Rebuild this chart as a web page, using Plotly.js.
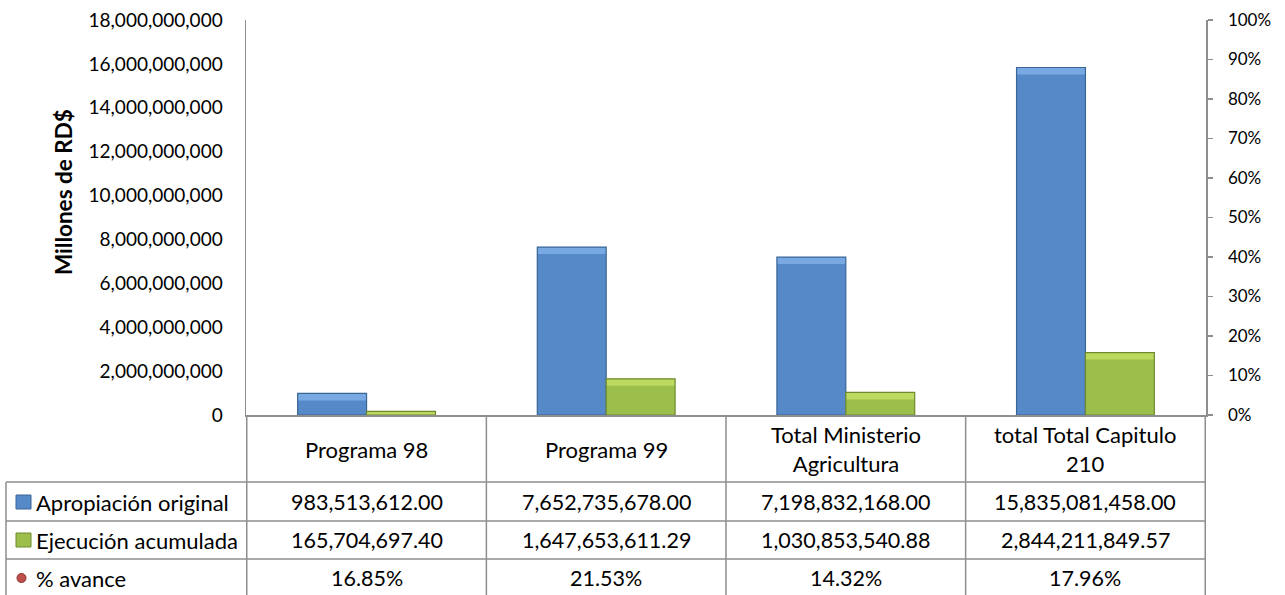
<!DOCTYPE html>
<html>
<head>
<meta charset="utf-8">
<script src="https://cdn.plot.ly/plotly-3.0.1.min.js"></script>
<style>html,body{margin:0;padding:0;background:#fff}#chart{width:1285px;height:595px}</style>
</head>
<body>
<div id="chart"></div>
<script>
// ---- data ----
const categories = ["Programa 98", "Programa 99", "Total Ministerio Agricultura", "total Total Capitulo 210"];
const headerLabels = ["Programa 98", "Programa 99", "Total Ministerio<br>Agricultura", "total Total Capitulo<br>210"];
const apropiacion = [983513612.00, 7652735678.00, 7198832168.00, 15835081458.00];
const ejecucion = [165704697.40, 1647653611.29, 1030853540.88, 2844211849.57];
const avance = [0.1685, 0.2153, 0.1432, 0.1796];
const seriesNames = ["Apropiación original", "Ejecución acumulada", "% avance"];
const yTickVals = [0, 2e9, 4e9, 6e9, 8e9, 10e9, 12e9, 14e9, 16e9, 18e9];

// ---- layout helpers ----
const W = 1285, H = 595;
const M = {l: 246, r: 79, t: 20, b: 180};
const PW = W - M.l - M.r, PH = H - M.t - M.b;
const px = v => (v - M.l) / PW;
const py = v => (H - M.b - v) / PH;
const YMAX = 18e9;
const bevel = YMAX * 7 / PH;

const FONT = "Lato, 'Open Sans', sans-serif";
const GRID = "#8e8e8e";
const BLUE = "#5589c8", BLUE_TOP = "#79a9e2", BLUE_EDGE = "#3a6597";
const GREEN = "#9cbf4c", GREEN_TOP = "#bcd960", GREEN_EDGE = "#6f8a2e";

function fmt2(v){return v.toLocaleString('en-US',{minimumFractionDigits:2, maximumFractionDigits:2});}
function fmtPct(v){return (v*100).toFixed(2) + '%';}

function barSet(vals, name, grp, body, top, edge){
  return [
    {type:'bar', x:categories, y:vals, name:name, offsetgroup:grp,
     marker:{color:body, line:{width:0}}, showlegend:false},
    {type:'bar', x:categories, y:vals.map(v=>Math.min(v,bevel)), base:vals.map(v=>Math.max(0,v-bevel)),
     offsetgroup:grp, marker:{color:top, line:{width:0}}, showlegend:false, hoverinfo:'skip'},
    {type:'bar', x:categories, y:vals, offsetgroup:grp,
     marker:{color:'rgba(0,0,0,0)', line:{color:edge, width:1.2}}, showlegend:false, hoverinfo:'skip'}
  ];
}

const traces = [
  ...barSet(apropiacion, seriesNames[0], 'a', BLUE, BLUE_TOP, BLUE_EDGE),
  ...barSet(ejecucion, seriesNames[1], 'b', GREEN, GREEN_TOP, GREEN_EDGE),
  {type:'scatter', mode:'markers', x:categories, y:avance, yaxis:'y2', name:seriesNames[2],
   marker:{color:'#c0504d', size:8, opacity:0}, showlegend:false}
];

const shapes = [];
const annotations = [];
// table vertical lines
for (let i = 0; i <= categories.length; i++) {
  shapes.push({type:'line', xref:'x', yref:'paper', x0:i-0.5, x1:i-0.5, y0:0, y1:py(H), line:{color:GRID, width:1.5}});
}
// left border of legend column
shapes.push({type:'line', xref:'paper', yref:'paper', x0:px(6), x1:px(6), y0:py(482), y1:py(H), line:{color:GRID, width:1.5}});
// horizontal row lines
[482, 521, 559].forEach(r => shapes.push({type:'line', xref:'paper', yref:'paper', x0:px(6), x1:1, y0:py(r), y1:py(r), line:{color:GRID, width:1.5}}));

// header cells
headerLabels.forEach((lab, i) => annotations.push({xref:'x', yref:'paper', x:categories[i], y:py(449), text:lab, showarrow:false,
  font:{family:FONT, size:22, color:'#000'}, xanchor:'center', yanchor:'middle'}));
// value rows
const rows = [apropiacion.map(fmt2), ejecucion.map(fmt2), avance.map(fmtPct)];
const rowY = [502, 540, 578];
rows.forEach((row, r) => row.forEach((t, i) => annotations.push({xref:'x', yref:'paper', x:categories[i], y:py(rowY[r]), text:t, showarrow:false,
  font:{family:FONT, size:21.5, color:'#000'}, xanchor:'center', yanchor:'middle'})));
// legend labels
seriesNames.forEach((n, r) => annotations.push({xref:'paper', yref:'paper', x:px(34), y:py(rowY[r]), text:n, showarrow:false,
  font:{family:FONT, size:22, color:'#000'}, xanchor:'left', yanchor:'middle'}));
// legend keys
shapes.push({type:'rect', xref:'paper', yref:'paper', x0:px(16), x1:px(31), y0:py(509), y1:py(495), fillcolor:BLUE, line:{color:BLUE_EDGE, width:1}});
shapes.push({type:'rect', xref:'paper', yref:'paper', x0:px(16), x1:px(31), y0:py(547), y1:py(533), fillcolor:GREEN, line:{color:GREEN_EDGE, width:1}});
shapes.push({type:'circle', xref:'paper', yref:'paper', x0:px(17), x1:px(26), y0:py(582.5), y1:py(573.5), fillcolor:'#c0504d', line:{color:'#8c2f2c', width:1}});

// y axis title
annotations.push({xref:'paper', yref:'paper', x:px(63), y:py(192), text:'<b>Millones de RD$</b>', textangle:-90, showarrow:false,
  font:{family:FONT, size:22.5, color:'#000'}, xanchor:'center', yanchor:'middle'});

const layout = {
  width: W, height: H,
  margin: M,
  paper_bgcolor:'#fff', plot_bgcolor:'#fff',
  barmode:'group', bargap:0.425, bargroupgap:0,
  showlegend:false,
  xaxis:{type:'category', showline:true, linecolor:GRID, linewidth:1.5, showticklabels:false, ticks:'', showgrid:false, zeroline:false, fixedrange:true},
  yaxis:{range:[0, YMAX], tickvals:yTickVals, tickformat:',.0f', showline:true, linecolor:GRID, linewidth:1.5, showgrid:false, zeroline:false,
         ticks:'', ticklabelstandoff:18, tickfont:{family:FONT, size:19, color:'#000'}},
  yaxis2:{range:[0,1], dtick:0.1, tickformat:'.0%', overlaying:'y', side:'right', showline:true, linecolor:GRID, linewidth:1.5,
          ticks:'outside', ticklen:5, tickcolor:GRID, tickwidth:1.5, showgrid:false, zeroline:false, ticklabelstandoff:12,
          tickfont:{family:FONT, size:17, color:'#000'}},
  shapes: shapes,
  annotations: annotations
};

Plotly.newPlot('chart', traces, layout, {staticPlot:true, displayModeBar:false});
</script>
</body>
</html>
